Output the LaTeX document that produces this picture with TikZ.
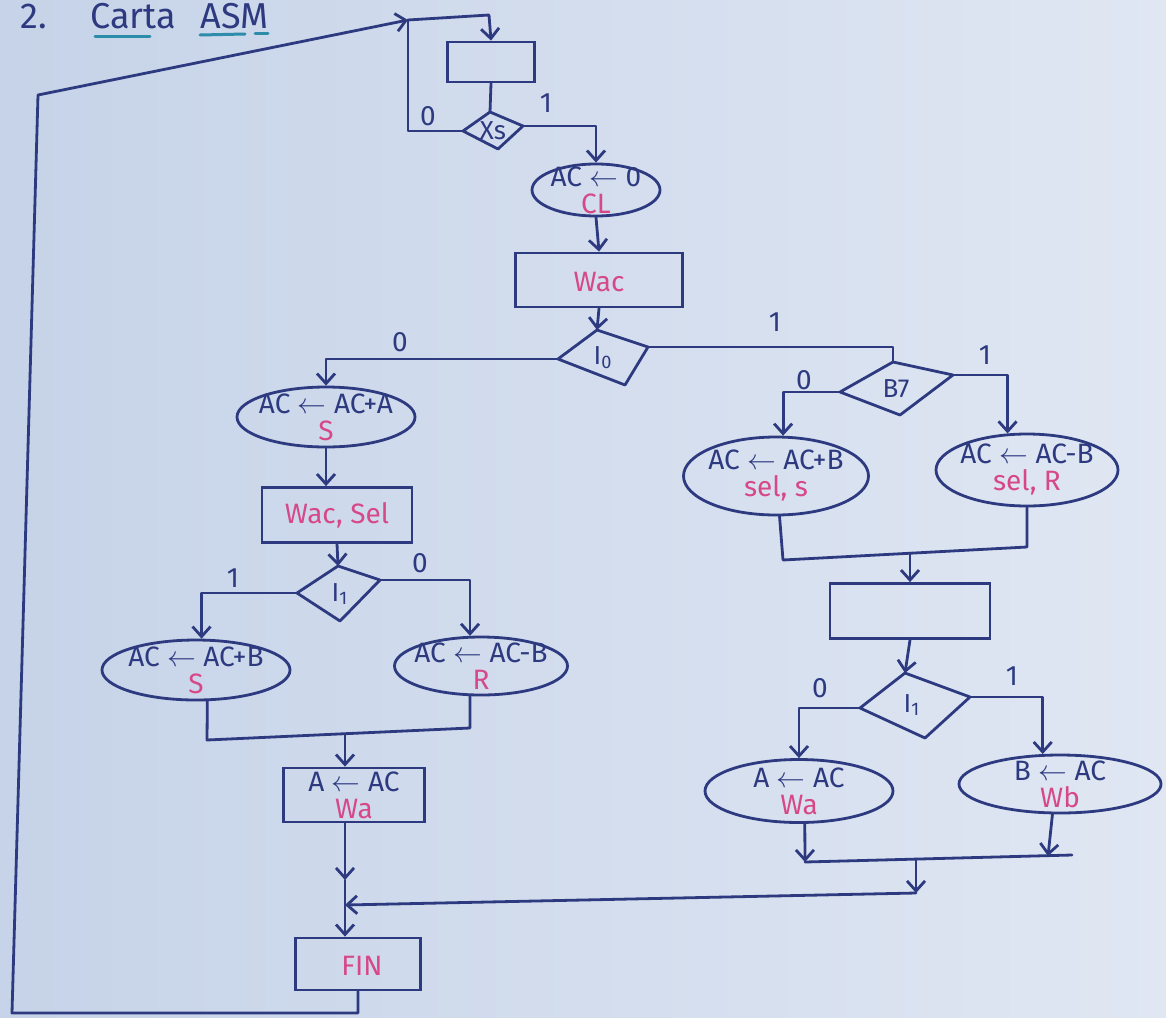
\documentclass[tikz,border=0pt]{standalone}
\usepackage{fontspec}
\setmainfont{Fira Sans}
\usetikzlibrary{shapes.geometric,arrows.meta}
\definecolor{ink}{RGB}{45,58,128}
\definecolor{mag}{RGB}{214,72,135}
\definecolor{tealink}{RGB}{45,140,170}
\definecolor{paperL}{RGB}{198,211,232}
\definecolor{paperR}{RGB}{224,231,243}
\begin{document}
\begin{tikzpicture}[x=0.5pt,y=-0.5pt,
  wire/.style={draw=ink,line width=1.4pt,line join=round,line cap=round},
  arr/.style={wire,-{Straight Barb[length=5pt,width=9pt,line width=1.4pt]}},
  ell/.style={ellipse,draw=ink,line width=1.4pt,inner sep=0pt},
  box/.style={rectangle,draw=ink,line width=1.4pt,inner sep=0pt},
  txt/.style={align=center,text=ink,font=\fontsize{14pt}{13.5pt}\selectfont,inner sep=1pt},
  lab/.style={text=ink,font=\fontsize{14pt}{14pt}\selectfont,inner sep=0pt},
  dtxt/.style={text=ink,font=\fontsize{13pt}{13pt}\selectfont,inner sep=0pt},
  ttl/.style={anchor=base west,text=ink,font=\fontsize{18pt}{18pt}\selectfont,inner sep=0pt}]
% background
\shade[left color=paperL,right color=paperR] (0,0) rectangle (1166,1017);
\useasboundingbox (0,0) rectangle (1166,1017);
% title
\node[ttl] (t1) at (20,28) {2.};
\node[ttl] (t2) at (90,28) {Carta};
\node[ttl] (t3) at (200,28) {ASM};
\draw[tealink,line width=1.5pt,line cap=round] (95,36)--(150,36);
\draw[tealink,line width=1.5pt,line cap=round] (200,35)--(245,34);
\draw[tealink,line width=1.5pt,line cap=round] (255,33)--(268,33);

% ---- top block
\coordinate (c0) at (408,20);
\node[box,minimum width=43.5pt,minimum height=20pt] (r0) at (491,62) {};
\coordinate (xsl) at (463,131);
\coordinate (xst) at (490,112);
\coordinate (xsr) at (523,126);
\coordinate (xsb) at (498,149);
\draw[wire] (xsl)--(xst)--(xsr)--(xsb)--cycle;
\node[dtxt] (xs) at (493,131) {Xs};

\node[ell,minimum width=64pt,minimum height=26pt] (e0) at (596,190) {};
\node[txt] (e0t) at (596,190) {AC $\leftarrow$ 0\\\textcolor{mag}{CL}};

\node[box,minimum width=83.5pt,minimum height=27pt] (rwac) at (599,280) {};
\node[txt] (rwact) at (599,282) {\textcolor{mag}{Wac}};

\coordinate (i0l) at (558,359);
\coordinate (i0t) at (597,330);
\coordinate (i0r) at (648,347);
\coordinate (i0b) at (625,385);
\draw[wire] (i0l)--(i0t)--(i0r)--(i0b)--cycle;
\node[dtxt] (i0) at (603,358) {I\textsubscript{0}};

% ---- right branch
\coordinate (b7l) at (840,392);
\coordinate (b7t) at (893,362);
\coordinate (b7r) at (953,375);
\coordinate (b7b) at (900,415);
\draw[wire] (b7l)--(b7t)--(b7r)--(b7b)--cycle;
\node[dtxt] (b7) at (896,389) {B7};

\node[ell,minimum width=92.5pt,minimum height=39pt] (eS) at (776,476) {};
\node[txt] (eSt) at (776,476) {AC $\leftarrow$ AC+B\\\textcolor{mag}{sel, s}};
\node[ell,minimum width=91pt,minimum height=36pt] (eR) at (1027,470) {};
\node[txt] (eRt) at (1027,470) {AC $\leftarrow$ AC-B\\\textcolor{mag}{sel, R}};

\node[box,minimum width=80pt,minimum height=27.5pt] (rE) at (910,611) {};

\coordinate (i1rl) at (860,708);
\coordinate (i1rt) at (905,673);
\coordinate (i1rr) at (970,697);
\coordinate (i1rb) at (925,738);
\draw[wire] (i1rl)--(i1rt)--(i1rr)--(i1rb)--cycle;
\node[dtxt] (i1r) at (912,705) {I\textsubscript{1}};

\node[ell,minimum width=94pt,minimum height=31.5pt] (eWa) at (799,791) {};
\node[txt] (eWat) at (799,791) {A $\leftarrow$ AC\\\textcolor{mag}{Wa}};
\node[ell,minimum width=101pt,minimum height=29pt] (eWb) at (1060,784) {};
\node[txt] (eWbt) at (1060,784) {B $\leftarrow$ AC\\\textcolor{mag}{Wb}};

% ---- left branch
\node[ell,minimum width=89pt,minimum height=30pt] (eA) at (326,417) {};
\node[txt] (eAt) at (326,417) {AC $\leftarrow$ AC+A\\\textcolor{mag}{S}};
\node[box,minimum width=75pt,minimum height=27.5pt] (rWS) at (337,515) {};
\node[txt] (rWSt) at (337,515) {\textcolor{mag}{Wac, Sel}};

\coordinate (i1ll) at (297,593);
\coordinate (i1lt) at (338,566);
\coordinate (i1lr) at (380,580);
\coordinate (i1lb) at (340,621);
\draw[wire] (i1ll)--(i1lt)--(i1lr)--(i1lb)--cycle;
\node[dtxt] (i1l) at (340,594) {I\textsubscript{1}};

\node[ell,minimum width=94pt,minimum height=30pt] (eB1) at (196,670) {};
\node[txt] (eB1t) at (196,670) {AC $\leftarrow$ AC+B\\\textcolor{mag}{S}};
\node[ell,minimum width=86.5pt,minimum height=29pt] (eR1) at (481,666) {};
\node[txt] (eR1t) at (481,666) {AC $\leftarrow$ AC-B\\\textcolor{mag}{R}};

\node[box,minimum width=70.5pt,minimum height=27pt] (rWa) at (354,795) {};
\node[txt] (rWat) at (354,795) {A $\leftarrow$ AC\\\textcolor{mag}{Wa}};

\node[box,minimum width=62.5pt,minimum height=26pt] (rFin) at (358,964) {};
\node[txt] (rFint) at (362,966) {\textcolor{mag}{FIN}};

% ---- connectors: top
\draw[arr] (c0) -- (489,15) -- (r0.north);
\draw[wire] (r0.south) -- (xst);
\draw[wire] (xsl) -- (408,131) -- (c0);
\draw[arr] (xsr) -| (e0.north);
\draw[arr] (e0.south) -- (rwac.north);
\draw[arr] (rwac.south) -- (i0t);
\draw[arr] (i0l) -| (eA.north);
\draw[wire] (i0r) -| (b7t);

% right branch connectors
\draw[arr] (b7l) -| (eS.80);
\draw[arr] (b7r) -| (eR.118);
\coordinate (mL) at (783,560);
\coordinate (mR) at (1027,547);
\draw[wire] (eS.-85) -- (mL) -- (mR) -- (eR.south);
\coordinate (mM) at (910,553);
\draw[arr] (mM) -- (rE.north);
\draw[arr] (rE.south) -- (i1rt);
\draw[arr] (i1rl) -| (eWa.north);
\draw[arr] (i1rr) -| (eWb.120);
\coordinate (nL) at (805,862);
\coordinate (nR) at (1048,856);
\coordinate (nE) at (1072,855);
\draw[arr] (eWa.-80) -- (nL);
\draw[arr] (eWb.-104) -- (nR);
\draw[wire] (nL) -- (nE);
\coordinate (nM) at (916,859);
\coordinate (nB) at (916,893);
\draw[arr] (nM) -- (nB);
\coordinate (j1) at (345,905);
\draw[arr] (nB) -- (j1);

% left branch connectors
\draw[arr] (eA.south) -- (eA.south |- rWS.north);
\draw[arr] (rWS.south) -- (i1lt);
\draw[arr] (i1lr) -| (eR1.110);
\draw[arr] (i1ll) -| (eB1.80);
\coordinate (kL) at (207,740);
\coordinate (kR) at (470,728);
\draw[wire] (eB1.-70) -- (kL) -- (kR) -- (eR1.-110);
\coordinate (kM) at (345,734);
\draw[arr] (kM) -- (kM |- rWa.north);
\coordinate (m1) at (345,880);
\draw[arr] (rWa.south -| m1) -- (m1);
\draw[wire] (m1) -- (j1);
\draw[arr] (j1) -- (j1 |- rFin.north);

% return loop
\coordinate (z1) at (358,1013);
\coordinate (z2) at (12,1013);
\coordinate (z3) at (38,95);
\draw[arr] (rFin.south) -- (z1) -- (z2) -- (z3) -- (c0);

% branch labels
\node[lab] (l1) at (428,116) {0};
\node[lab] (l2) at (546,103) {1};
\node[lab] (l3) at (400,342) {0};
\node[lab] (l4) at (775,322) {1};
\node[lab] (l5) at (804,380) {0};
\node[lab] (l6) at (985,355) {1};
\node[lab] (l7) at (233,578) {1};
\node[lab] (l8) at (420,563) {0};
\node[lab] (l9) at (820,688) {0};
\node[lab] (l10) at (1012,676) {1};
\end{tikzpicture}
\end{document}
